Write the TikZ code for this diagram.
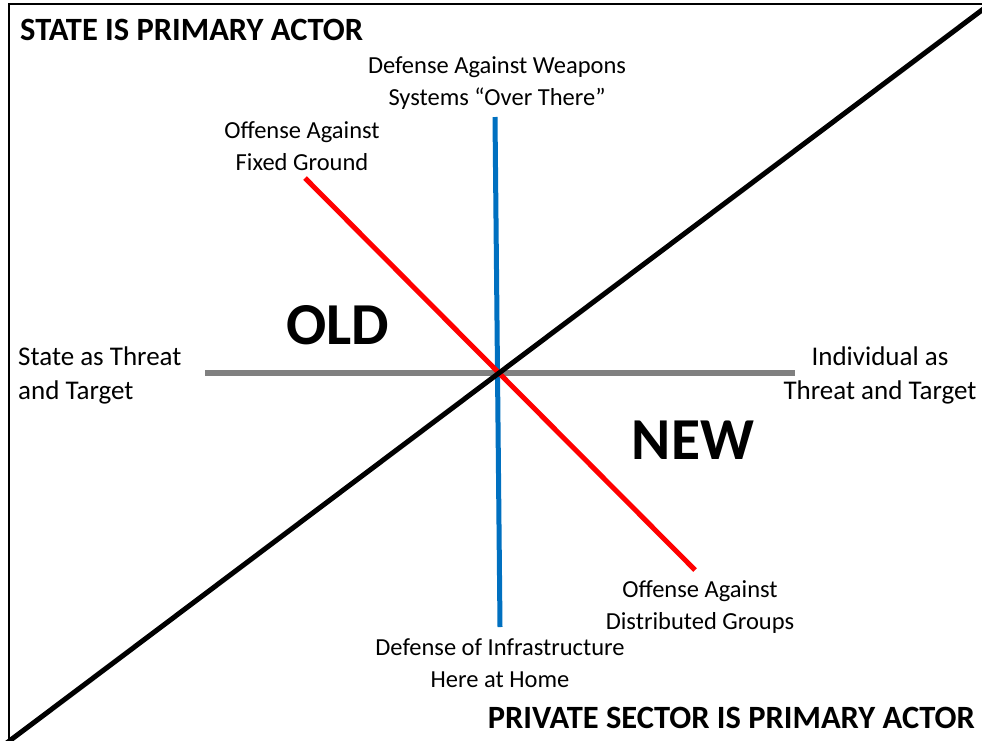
\documentclass[tikz,border=0pt]{standalone}
\usepackage{fontspec}
\setmainfont{Carlito}
\begin{document}
\begin{tikzpicture}[x=1pt,y=-1pt,
  lbl/.style={align=center,font=\fontsize{24.5}{31.5}\selectfont,inner sep=0pt},
  side/.style={font=\fontsize{27}{34}\selectfont},
  head/.style={font=\fontsize{32.5}{36}\selectfont\bfseries,inner sep=0pt},
  big/.style={font=\fontsize{59.5}{62}\selectfont\bfseries,inner sep=0pt},
  axis/.style={line width=5pt}]
\useasboundingbox (0,0) rectangle (982,740);
\fill[white] (0,0) rectangle (982,740);
\draw[line width=2pt] (9,760) -- (9,4) -- (1000,4);
% coordinates
\coordinate (dA) at (0,748);
\coordinate (dB) at (990,4);
\coordinate (gA) at (205,373);
\coordinate (gB) at (795,373);
\coordinate (bA) at (495,117);
\coordinate (bB) at (500,627);
\coordinate (rA) at (305,178);
\coordinate (rB) at (695,570);
\draw[line width=6pt, draw={rgb,255:red,128;green,128;blue,128}] (gA) -- (gB);
\draw[axis, draw={rgb,255:red,0;green,112;blue,192}] (bA) -- (bB);
\draw[axis, draw={rgb,255:red,255;green,0;blue,0}] (rA) -- (rB);
\draw[axis, black] (dA) -- (dB);
% texts
\node[head, anchor=west] (t1) at (20,30) {STATE IS PRIMARY ACTOR};
\node[head, anchor=east] (t2) at (975,718) {PRIVATE SECTOR IS PRIMARY ACTOR};
\node[lbl] (l1) at (497,83) {Defense Against Weapons\\Systems “Over There”};
\node[lbl] (l2) at (302,146) {Offense Against\\Fixed Ground};
\node[lbl, side, align=left, anchor=west] (l3) at (18,375) {State as Threat\\and Target};
\node[lbl, side] (l4) at (880,375) {Individual as\\Threat and Target};
\node[lbl] (l5) at (700,607) {Offense Against\\Distributed Groups};
\node[lbl] (l6) at (500,663) {Defense of Infrastructure\\Here at Home};
\node[big] (old) at (338,325) {OLD};
\node[big] (new) at (693,440) {NEW};
\end{tikzpicture}
\end{document}
